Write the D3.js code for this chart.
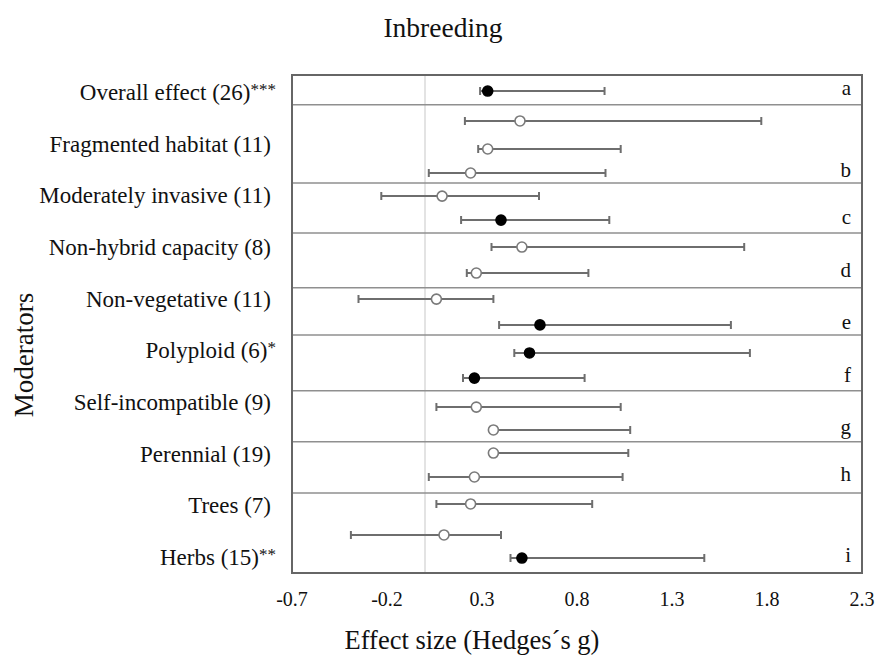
<!DOCTYPE html>
<meta charset="utf-8">
<style>
    body { margin: 0; background: #fff; }
    text { font-family: "Liberation Serif", "Times New Roman", serif; fill: #111; }
    .frame { fill: none; stroke: #666; stroke-width: 2; }
    .divider { stroke: #8f8f8f; stroke-width: 1.5; }
    .zero { stroke: #dadada; stroke-width: 1.5; }
    .bar { stroke: #6e6e6e; stroke-width: 2; fill: none; }
</style>
<svg width="875" height="655"></svg>
<script src="https://cdn.jsdelivr.net/npm/d3@7"></script>
<script>
    // moderator labels down the left side
    var moderators = ["Overall effect (26)***", "Fragmented habitat (11)", "Moderately invasive (11)",
        "Non-hybrid capacity (8)", "Non-vegetative (11)", "Polyploid (6)*", "Self-incompatible (9)",
        "Perennial (19)", "Trees (7)", "Herbs (15)**"];

    // one entry per plotted point
    var groups = ["a", "b", "b", "b", "c", "c", "d", "d", "e", "e", "f", "f", "g", "g", "h", "h", "i", "i", "i"];
    var rowPos = [0.71, 2.03, 3.27, 4.33, 5.35, 6.41, 7.60, 8.75, 9.90, 11.04, 12.28, 13.39, 14.67, 15.68, 16.70, 17.76, 18.95, 20.32, 21.34];
    var means = [0.33, 0.50, 0.33, 0.24, 0.09, 0.40, 0.51, 0.27, 0.06, 0.605, 0.55, 0.26, 0.27, 0.36, 0.36, 0.26, 0.24, 0.10, 0.51];
    var lower = [0.29, 0.21, 0.28, 0.02, -0.23, 0.19, 0.35, 0.22, -0.35, 0.39, 0.47, 0.20, 0.06, 0.36, 0.36, 0.02, 0.06, -0.39, 0.45];
    var upper = [0.945, 1.77, 1.03, 0.95, 0.60, 0.97, 1.68, 0.86, 0.36, 1.61, 1.71, 0.84, 1.03, 1.08, 1.07, 1.04, 0.88, 0.40, 1.47];
    var significant = [1, 0, 0, 0, 0, 1, 0, 0, 0, 1, 1, 1, 0, 0, 0, 0, 0, 0, 1];

    // group separators (same hidden row units)
    var dividers = [1.31, 4.77, 6.98, 9.40, 11.49, 13.95, 16.20, 18.47];

    var xTicks = [-0.7, -0.2, 0.3, 0.8, 1.3, 1.8, 2.3];

    var svg = d3.select("svg"),
        margin = { top: 75, right: 13, bottom: 82, left: 292 },
        width = +svg.attr("width") - margin.left - margin.right,
        height = +svg.attr("height") - margin.top - margin.bottom;

    var x = d3.scaleLinear().domain([-0.7, 2.3]).range([0, width]);
    var y = d3.scaleLinear().domain([0, 22]).range([0, height]);
    var yLab = d3.scalePoint().domain(moderators).range([17, 482]);

    var g = svg.append("g")
        .attr("transform", "translate(" + margin.left + "," + margin.top + ")");

    // zero reference line
    g.append("line")
        .attr("class", "zero")
        .attr("x1", x(0)).attr("x2", x(0))
        .attr("y1", 0).attr("y2", height);

    g.selectAll(".divider")
        .data(dividers)
        .enter().append("line")
        .attr("class", "divider")
        .attr("x1", 0).attr("x2", width)
        .attr("y1", function (d) { return y(d); })
        .attr("y2", function (d) { return y(d); });

    var pts = d3.range(means.length).map(function (i) {
        return { g: groups[i], pos: rowPos[i], m: means[i], lo: lower[i], hi: upper[i], sig: significant[i] };
    });

    var bars = g.selectAll(".pt")
        .data(pts)
        .enter().append("g")
        .attr("class", "pt")
        .attr("transform", function (d) { return "translate(0," + y(d.pos) + ")"; });

    bars.append("path")
        .attr("class", "bar")
        .attr("d", function (d) {
            var a = x(d.lo), b = x(d.hi);
            return "M" + a + ",-4V4M" + a + ",0H" + b + "M" + b + ",-4V4";
        });

    bars.append("circle")
        .attr("cx", function (d) { return x(d.m); })
        .attr("r", 5)
        .attr("fill", function (d) { return d.sig ? "#000" : "#fff"; })
        .attr("stroke", function (d) { return d.sig ? "#000" : "#7a7a7a"; })
        .attr("stroke-width", 1.6);

    // group letters next to the last point of each group
    var lastOf = d3.rollups(pts, function (v) { return v[v.length - 1].pos; }, function (d) { return d.g; });
    g.selectAll(".letter")
        .data(lastOf)
        .enter().append("text")
        .attr("class", "letter")
        .attr("x", width - 11)
        .attr("y", function (d) { return y(d[1]) + 4; })
        .attr("text-anchor", "end")
        .style("font-size", "21px")
        .text(function (d) { return d[0]; });

    g.append("rect")
        .attr("class", "frame")
        .attr("width", width)
        .attr("height", height);

    // x axis labels only, no ticks
    g.selectAll(".xtick")
        .data(xTicks)
        .enter().append("text")
        .attr("x", function (d) { return x(d); })
        .attr("y", height + 33)
        .attr("text-anchor", "middle")
        .style("font-size", "20px")
        .text(function (d) { return d3.format(".1f")(d).replace("−", "-"); });

    // moderator names, significance stars set small and raised
    var lab = g.selectAll(".ylab")
        .data(moderators)
        .enter().append("text")
        .attr("x", -16)
        .attr("y", function (d) { return yLab(d); })
        .attr("dy", "0.35em")
        .attr("text-anchor", "end")
        .style("font-size", "23px");
    lab.append("tspan")
        .text(function (d) { return d.replace(/\*+$/, ""); });
    lab.append("tspan")
        .style("font-size", "17px")
        .attr("dy", "-0.3em")
        .text(function (d) { var m = d.match(/\*+$/); return m ? m[0] : ""; });
    // labels without stars end a little further left
    lab.filter(function (d) { return !/\*$/.test(d); }).attr("x", -21);

    svg.append("text")
        .attr("x", 443).attr("y", 37)
        .attr("text-anchor", "middle")
        .style("font-size", "27.5px")
        .text("Inbreeding");

    svg.append("text")
        .attr("x", 472).attr("y", 649)
        .attr("text-anchor", "middle")
        .style("font-size", "26.5px")
        .text("Effect size (Hedges´s g)");

    svg.append("text")
        .attr("transform", "translate(33,355) rotate(-90)")
        .attr("text-anchor", "middle")
        .style("font-size", "27px")
        .text("Moderators");
</script>
